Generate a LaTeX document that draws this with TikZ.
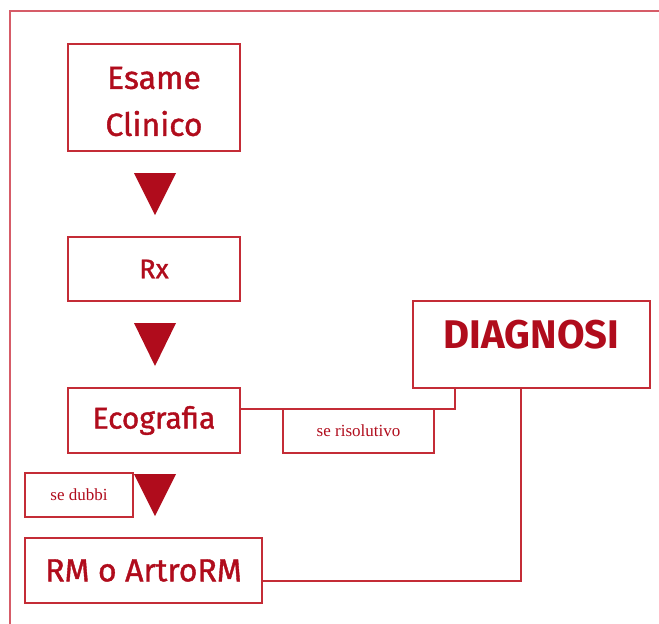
\documentclass[tikz,border=0pt]{standalone}
\usepackage{fontspec}
\setmainfont{Fira Sans}
\newfontfamily\boxfont[FakeBold=1.2]{Fira Sans}
\newfontfamily\serifnote{Liberation Serif}
\definecolor{txtred}{RGB}{176,12,28}
\definecolor{boxred}{RGB}{196,44,54}
\definecolor{framered}{RGB}{214,92,104}
\tikzset{
  box/.style={draw=boxred, line width=1.5pt, inner sep=0pt, text=txtred},
  btxt/.style={text=txtred, inner sep=0pt, align=center},
  note/.style={draw=boxred, line width=1.3pt, inner sep=0pt, text=txtred, font=\serifnote\fontsize{17}{20}\selectfont},
  conn/.style={draw=boxred, line width=1.5pt},
  tri/.style={fill=txtred}
}
\begin{document}
\begin{tikzpicture}[x=1pt,y=-1pt]
\useasboundingbox (0,0) rectangle (659,624);
% outer frame
\draw[framered, line width=1.6pt] (10,626) -- (10,11) -- (661,11);
% boxes
\node (esame) [box, minimum width=172pt, minimum height=107pt] at (154,97.5) {};
\node (esametxt) [btxt, font=\boxfont\fontsize{32}{47}\selectfont]
  at ([yshift=-4pt]esame.center) {Esame\\Clinico};
\node (rx) [box, minimum width=172pt, minimum height=64pt,
  font=\boxfont\fontsize{27}{32}\selectfont] at (154,269) {Rx};
\node (eco) [box, minimum width=172pt, minimum height=65pt,
  font=\boxfont\fontsize{30}{36}\selectfont] at (154,420.5) {Ecografia};
\node (rm) [box, minimum width=237pt, minimum height=65pt,
  font=\boxfont\fontsize{32}{36}\selectfont] at (143.5,570.5) {RM o ArtroRM};
\node (diag) [box, minimum width=237pt, minimum height=87pt] at (531.5,344.5) {};
\node (diagtxt) [btxt, font=\bfseries\fontsize{40}{44}\selectfont]
  at ([yshift=-34pt]diag.north) {DIAGNOSI};
\node (ris) [note, minimum width=151pt, minimum height=44pt] at (358.5,431) {se risolutivo};
\node (dub) [note, minimum width=108pt, minimum height=44pt] at (79,495) {se dubbi};
% triangles
\fill[tri] (134,173) -- (176,173) -- (155,215) -- cycle;
\fill[tri] (134,323) -- (176,323) -- (155,366) -- cycle;
\fill[tri] (134,474) -- (176,474) -- (155,516) -- cycle;
% connectors
\coordinate (j1) at (455,409);
\coordinate (j2) at (521,581);
\draw[conn] (eco.east |- j1) -- (j1) -- (diag.south -| j1);
\draw[conn] (diag.south -| j2) -- (j2) -- (rm.east |- j2);
\end{tikzpicture}
\end{document}
